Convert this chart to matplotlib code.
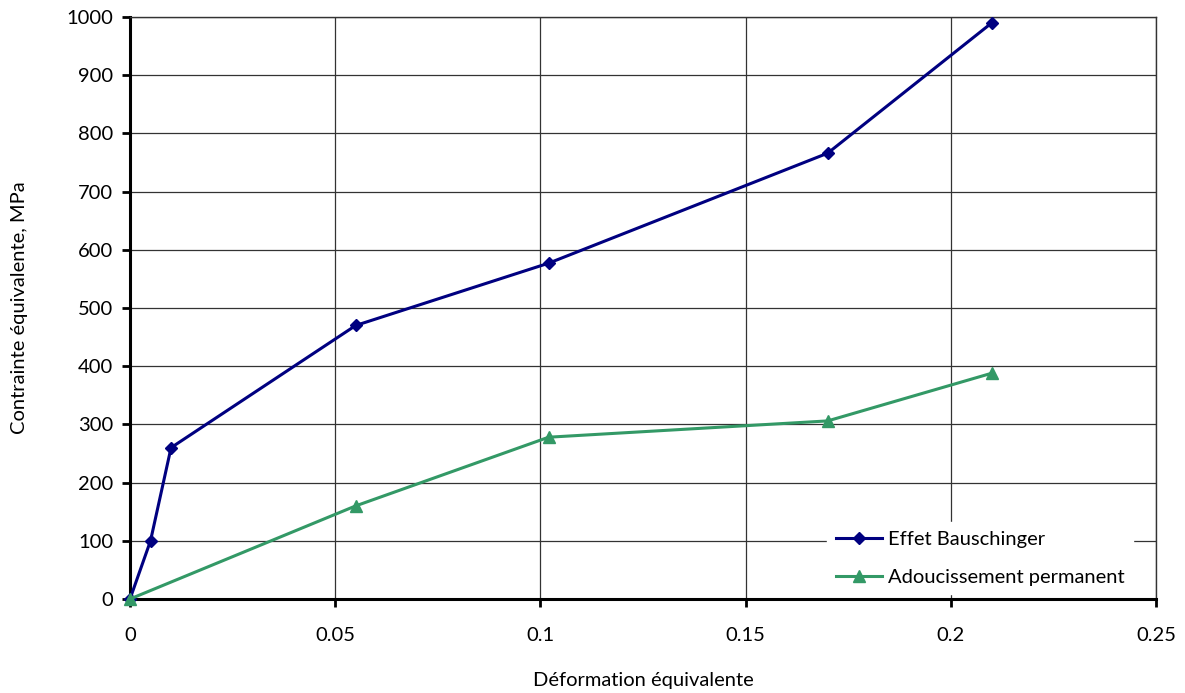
import numpy as np
import matplotlib
matplotlib.use("Agg")
import matplotlib.pyplot as plt

plt.rcParams['font.family'] = ['Lato', 'DejaVu Sans']

# donnees
x_bausch = [0, 0.005, 0.01, 0.055, 0.102, 0.17, 0.21]
y_bausch = [0, 100, 260, 470, 577, 766, 990]
x_adouc = [0, 0.055, 0.102, 0.17, 0.21]
y_adouc = [0, 160, 278, 306, 388]
xticks = [0, 0.05, 0.1, 0.15, 0.2, 0.25]
xtick_labels = ['0', '0.05', '0.1', '0.15', '0.2', '0.25']
yticks = list(range(0, 1001, 100))

fig = plt.figure(figsize=(11.85, 6.93), dpi=100)
ax = fig.add_axes([130/1185, 1 - 599/693, (1156-130)/1185, (599-17)/693])

ax.plot(x_bausch, y_bausch, color='#000080', lw=2.2, marker='D', ms=6,
        label='Effet Bauschinger', zorder=3, clip_on=False)
ax.plot(x_adouc, y_adouc, color='#339966', lw=2.2, marker='^', ms=8,
        label='Adoucissement permanent', zorder=3, clip_on=False)

ax.set_xlim(0, 0.25)
ax.set_ylim(0, 1000)
ax.set_xticks(xticks)
ax.set_xticklabels(xtick_labels)
ax.set_yticks(yticks)
ax.grid(True, color='#333333', lw=0.9)
ax.set_axisbelow(True)

for s in ['top', 'right']:
    ax.spines[s].set_linewidth(1.0)
    ax.spines[s].set_color('#333333')
for s in ['left', 'bottom']:
    ax.spines[s].set_linewidth(2.2)
    ax.spines[s].set_color('black')
ax.tick_params(direction='out', length=6, width=2, labelsize=14.5, pad=6)
ax.tick_params(axis='x', pad=14)

ax.set_xlabel('Déformation équivalente', fontsize=14.5, labelpad=20)
ax.set_ylabel('Contrainte équivalente, MPa', fontsize=14.5, labelpad=28)

leg = ax.legend(loc='lower right', bbox_to_anchor=(0.985, -0.005), frameon=True,
                fontsize=14.5, handlelength=2.3, handletextpad=0.3,
                labelspacing=1.05, borderaxespad=0.4, fancybox=False)
leg.get_frame().set_edgecolor('white')
leg.get_frame().set_facecolor('white')
leg.get_frame().set_alpha(1)

plt.savefig('out.png', dpi=100)
